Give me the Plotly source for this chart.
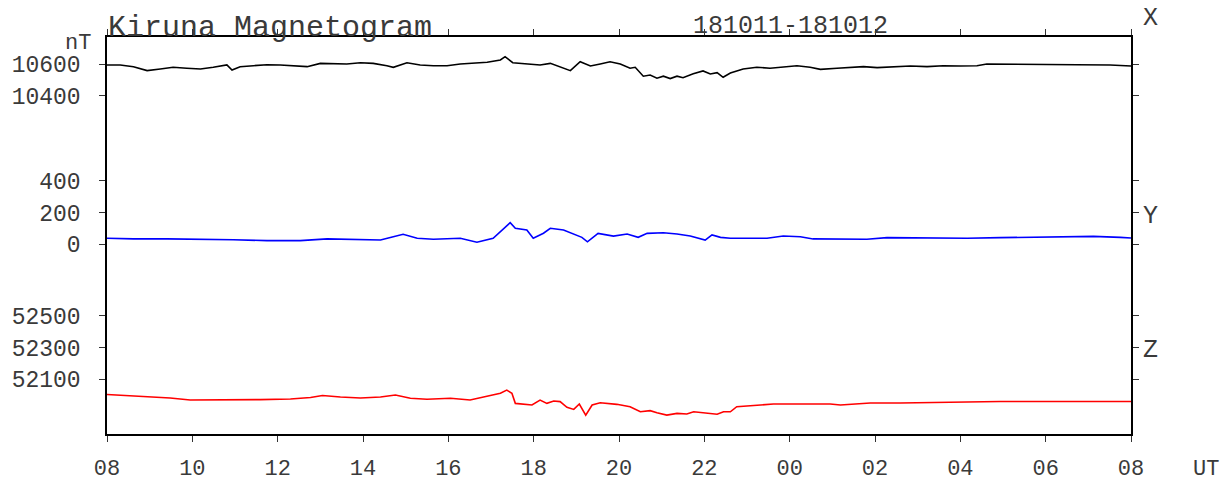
import pandas as pd
import plotly.graph_objects as go

# Hours after 2018-10-11 08:00 UT and field values in nT
x_hours = [0, 0.31, 0.62, 0.94, 1.25, 1.55, 1.87, 2.19, 2.49, 2.81, 2.93, 3.12, 3.43, 3.75,
           4.06, 4.37, 4.69, 5.00, 5.30, 5.62, 5.94, 6.24, 6.56, 6.71, 7.03, 7.34, 7.65, 7.97,
           8.28, 8.58, 8.91, 9.22, 9.33, 9.51, 9.84, 10.15, 10.39, 10.62, 10.86, 11.09, 11.33,
           11.56, 11.79, 12.03, 12.26, 12.38, 12.57, 12.73, 12.89, 13.04, 13.20, 13.36, 13.50,
           13.74, 13.97, 14.14, 14.30, 14.44, 14.61, 14.91, 15.23, 15.54, 15.85, 16.17, 16.48,
           16.72, 17.11, 17.42, 17.73, 18.05, 18.43, 18.83, 19.22, 19.60, 20.00, 20.39, 20.62,
           21.17, 21.94, 22.73, 23.51, 23.86, 24.0]
x_nt = [10596, 10596, 10585, 10560, 10570, 10581, 10575, 10570, 10581, 10596, 10564, 10585,
        10591, 10597, 10596, 10591, 10585, 10606, 10602, 10602, 10610, 10606, 10591, 10581,
        10610, 10596, 10591, 10591, 10602, 10606, 10613, 10627, 10648, 10610, 10602, 10596,
        10606, 10585, 10560, 10616, 10589, 10602, 10616, 10602, 10575, 10581, 10525, 10532,
        10512, 10525, 10510, 10525, 10515, 10540, 10558, 10539, 10547, 10518, 10545, 10570,
        10581, 10575, 10585, 10591, 10581, 10568, 10575, 10581, 10585, 10579, 10585, 10589,
        10585, 10591, 10589, 10591, 10602, 10600, 10596, 10597, 10596, 10591, 10589]

y_hours = [0, 0.62, 1.41, 2.19, 2.96, 3.75, 4.53, 5.16, 5.77, 6.41, 6.71, 6.94, 7.27, 7.65,
           8.28, 8.67, 9.05, 9.22, 9.45, 9.57, 9.84, 9.99, 10.23, 10.39, 10.70, 11.13, 11.26,
           11.51, 11.87, 12.19, 12.45, 12.66, 13.04, 13.36, 13.67, 14.02, 14.18, 14.38, 14.61,
           15.08, 15.47, 15.85, 16.25, 16.55, 17.02, 17.81, 18.28, 19.37, 20.16, 20.94, 21.72,
           22.50, 23.12, 23.75, 24.0]
y_nt = [38, 34, 34, 32, 29, 23, 23, 34, 32, 27, 48, 63, 38, 32,
        38, 13, 38, 80, 137, 101, 90, 38, 70, 101, 90, 44, 16,
        69, 52, 65, 44, 69, 73, 65, 52, 27, 59, 44, 38,
        38, 38, 52, 48, 34, 32, 32, 42, 38, 38, 42, 44,
        44, 50, 44, 40]

z_hours = [0, 0.55, 1.01, 1.48, 1.95, 2.42, 2.89, 3.59, 4.30, 4.77, 5.05, 5.47, 5.94, 6.41,
           6.76, 7.11, 7.50, 8.05, 8.51, 8.83, 9.22, 9.37, 9.49, 9.57, 9.84, 9.96, 10.15,
           10.31, 10.47, 10.62, 10.78, 10.94, 11.07, 11.22, 11.37, 11.56, 11.95, 12.26, 12.50,
           12.73, 12.89, 13.12, 13.36, 13.59, 13.75, 14.06, 14.30, 14.45, 14.61, 14.76, 15.15,
           15.62, 16.25, 16.95, 17.19, 17.89, 18.59, 19.76, 20.93, 24.0]
z_nt = [52004, 51995, 51985, 51982, 51969, 51969, 51972, 51972, 51976, 51985, 51998, 51988,
        51982, 51988, 52001, 51980, 51974, 51980, 51969, 51990, 52012, 52032, 52012, 51948,
        51944, 51938, 51969, 51948, 51963, 51959, 51923, 51910, 51944, 51874, 51938, 51952,
        51942, 51927, 51895, 51902, 51889, 51874, 51885, 51881, 51895, 51885, 51879, 51895,
        51895, 51927, 51933, 51944, 51944, 51944, 51938, 51950, 51950, 51957, 51960, 51960]

x_ticks = [10400, 10600]
y_ticks = [0, 200, 400]
z_ticks = [52100, 52300, 52500]

start = pd.Timestamp("2018-10-11 08:00")
end = pd.Timestamp("2018-10-12 08:00")


def stamp(hours):
    return [start + pd.Timedelta(hours=h) for h in hours]


FONT = "Liberation Mono, Courier New, monospace"
INK = "#3a3a3a"

# plot box in pixels
L, R, T, B = 107, 1131, 37, 434
W, H = 1225, 482


def px(xp):
    return (xp - L) / (R - L)


def py(yp):
    return (B - yp) / (B - T)


fig = go.Figure()
fig.add_trace(go.Scatter(x=stamp(x_hours), y=x_nt, mode="lines", yaxis="y",
                         line=dict(color="black", width=1.6), showlegend=False))
fig.add_trace(go.Scatter(x=stamp(y_hours), y=y_nt, mode="lines", yaxis="y2",
                         line=dict(color="#0000ff", width=1.6), showlegend=False))
fig.add_trace(go.Scatter(x=stamp(z_hours), y=z_nt, mode="lines", yaxis="y3",
                         line=dict(color="#ff0000", width=1.6), showlegend=False))

span = 2507.4  # nT covered by the plot height (same scale for all components)


def yax(top, ticks, **kw):
    d = dict(range=[top - span, top], tickvals=ticks, ticktext=[str(t) for t in ticks],
             showgrid=False, zeroline=False, showline=True, linecolor="black", linewidth=1.5,
             mirror="ticks", ticks="outside", ticklen=6, tickcolor="#333333", tickwidth=1,
             tickfont=dict(family=FONT, size=23, color=INK), ticklabelstandoff=14,
             automargin=False, fixedrange=True)
    d.update(kw)
    return d


fig.update_layout(
    width=W, height=H,
    margin=dict(l=L, r=W - R, t=T, b=H - B, pad=0, autoexpand=False),
    paper_bgcolor="white", plot_bgcolor="white",
    xaxis=dict(type="date", range=[start, end], dtick=2 * 3600 * 1000, tick0=start,
               tickformat="%H", showgrid=False, zeroline=False, showline=True,
               linecolor="black", linewidth=2, mirror="ticks", ticks="outside", ticklen=6,
               tickcolor="#333333", tickwidth=1, automargin=False,
               tickfont=dict(family=FONT, size=22, color=INK), ticklabelstandoff=7),
    yaxis=yax(10772.4, x_ticks),
    yaxis2=yax(1309.3, y_ticks, overlaying="y"),
    yaxis3=yax(54262.0, z_ticks, overlaying="y"),
)

notes = [
    ("Kiruna Magnetogram", 107, 46, 30, "left", "bottom"),
    ("181011-181012", 790, 42, 25, "center", "bottom"),
    ("nT", 92, 43, 22, "right", "middle"),
    ("X", 1142, 19, 25, "left", "middle"),
    ("Y", 1142, 216, 25, "left", "middle"),
    ("Z", 1142, 350, 25, "left", "middle"),
    ("UT", 1192, 469, 22, "left", "middle"),
]
for text, xp, yp, size, xa, ya in notes:
    fig.add_annotation(text=text, xref="paper", yref="paper", x=px(xp), y=py(yp),
                       xanchor=xa, yanchor=ya, showarrow=False, borderpad=0,
                       font=dict(family=FONT, size=size, color=INK))

fig.write_html("out.html")
